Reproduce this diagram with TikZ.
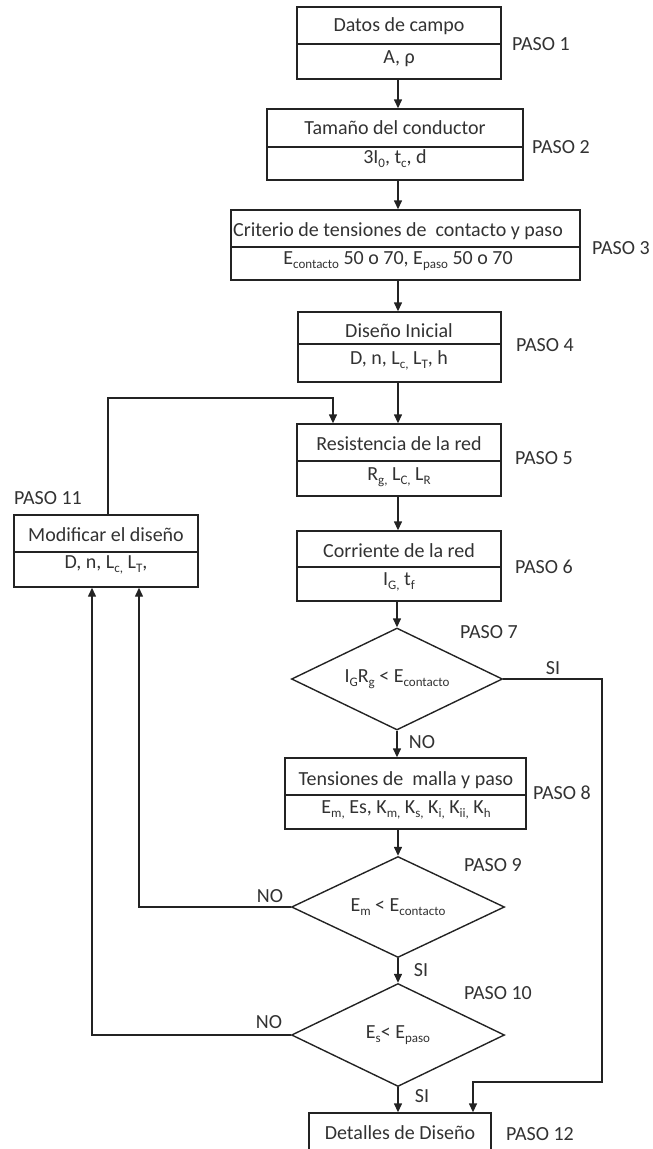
\documentclass[tikz,border=0pt]{standalone}
\usepackage{fontspec}
\setmainfont{Carlito}
\usetikzlibrary{arrows.meta,shapes.geometric}
\newcommand\sbs[1]{\raisebox{-0.22em}{\fontsize{13}{13}\selectfont #1}}
\definecolor{ink}{RGB}{35,35,35}
\definecolor{txt}{RGB}{50,50,50}
\begin{document}
\begin{tikzpicture}[x=1pt,y=-1pt,
  box/.style={draw=ink,line width=1.4pt,rectangle,inner sep=0pt},
  lbl/.style={text=txt,font=\fontsize{20}{24}\selectfont,inner sep=0pt,text height=13pt,text depth=0pt},
  paso/.style={lbl,anchor=west},
  dia/.style={draw=ink,line width=1.4pt,diamond,aspect=2,inner sep=0pt,text=txt,font=\fontsize{20}{24}\selectfont},
  arr/.style={draw=ink,line width=1.4pt,-{Triangle[length=9pt,width=8pt]}},
  ln/.style={draw=ink,line width=1.4pt}]
\useasboundingbox (0,0) rectangle (653,1149);
\clip (0,0) rectangle (653,1149);

% boxes
\node[box,minimum width=204pt,minimum height=72pt] (b1) at (399,43) {};
\draw[ln] (297,44) -- (501,44);
\node[lbl] (t1a) at (399,25) {Datos de campo};
\node[lbl] (t1b) at (399,57) {A, ρ};

\node[box,minimum width=256pt,minimum height=71pt] (b2) at (395,144.5) {};
\draw[ln] (267,147) -- (523,147);
\node[lbl] (t2a) at (395,128) {Tamaño del conductor};
\node[lbl] (t2b) at (395,157) {3I\sbs{0}, t\sbs{c}, d};

\node[box,minimum width=349pt,minimum height=70pt] (b3) at (405.5,245) {};
\draw[ln] (231,247) -- (580,247);
\node[lbl] (t3a) at (398,230) {Criterio de tensiones de\ \ contacto y paso};
\node[lbl] (t3b) at (398,258) {E\sbs{contacto} 50 o 70, E\sbs{paso} 50 o 70};

\node[box,minimum width=203pt,minimum height=70pt] (b4) at (399.5,347) {};
\draw[ln] (298,344) -- (501,344);
\node[lbl] (t4a) at (399,331) {Diseño Inicial};
\node[lbl] (t4b) at (399,358) {D, n, L\sbs{c,} L\sbs{T}, h};

\node[box,minimum width=204pt,minimum height=72pt] (b5) at (399,460) {};
\draw[ln] (297,461) -- (501,461);
\node[lbl] (t5a) at (399,444) {Resistencia de la red};
\node[lbl] (t5b) at (399,474) {R\sbs{g,} L\sbs{C,} L\sbs{R}};

\node[box,minimum width=204pt,minimum height=70pt] (b6) at (399,566) {};
\draw[ln] (297,567) -- (501,567);
\node[lbl] (t6a) at (399,551) {Corriente de la red};
\node[lbl] (t6b) at (399,579) {I\sbs{G,} t\sbs{f}};

\node[box,minimum width=184pt,minimum height=72pt] (b11) at (106,551) {};
\draw[ln] (14,552) -- (198,552);
\node[lbl] (t11a) at (106,535) {Modificar el diseño};
\node[lbl] (t11b) at (106,562) {D, n, L\sbs{c,} L\sbs{T},};

\node[box,minimum width=241pt,minimum height=71pt] (b8) at (405.5,793.5) {};
\draw[ln] (285,795) -- (526,795);
\node[lbl] (t8a) at (406,779) {Tensiones de\ \ malla y paso};
\node[lbl] (t8b) at (406,807) {E\sbs{m,} Es, K\sbs{m,} K\sbs{s,} K\sbs{i,} K\sbs{ii,} K\sbs{h}};

\node[box,minimum width=182pt,minimum height=70pt] (b12) at (400,1148) {};
\node[lbl] (t12) at (400,1133) {Detalles de Diseño};

% decisions
\node[dia,minimum width=211pt,minimum height=102pt] (d7) at (397,679) {I\sbs{G}R\sbs{g} < E\sbs{contacto}};
\node[dia,minimum width=213pt,minimum height=101pt] (d9) at (398,907) {E\sbs{m} < E\sbs{contacto}};
\node[dia,minimum width=213pt,minimum height=103pt] (d10) at (398,1035) {E\sbs{s}< E\sbs{paso}};

% main column arrows
\coordinate (col) at (398,0);
\draw[arr] (b1.south -| col) -- (b2.north -| col);
\draw[arr] (b2.south -| col) -- (b3.north -| col);
\draw[arr] (b3.south -| col) -- (b4.north -| col);
\draw[arr] (b4.south -| col) -- (b5.north -| col);
\draw[arr] (b5.south -| col) -- (b6.north -| col);
\draw[arr] (b6.south -| d7) -- (d7.north);
\draw[arr] (d7.south) -- (d7.south |- b8.north);
\draw[arr] (b8.south -| d9) -- (d9.north);
\draw[arr] (d9.south) -- (d10.north);
\draw[arr] (d10.south) -- (d10.south |- b12.north);

% feedback from step 11 to step 5
\coordinate (fbL) at (108,398);
\coordinate (fbR) at (333,398);
\draw[arr] (b11.north -| fbL) -- (fbL) -- (fbR) -- (b5.north -| fbR);

% SI from step 7 to step 12
\coordinate (siR) at (602,1082);
\coordinate (siB) at (473,1082);
\draw[arr] (d7.east) -| (siR) -- (siB) -- (b12.north -| siB);

% NO loops back to step 11
\coordinate (n9) at (139,0);
\coordinate (n10) at (92,0);
\draw[arr] (d9.west) -| (b11.south -| n9);
\draw[arr] (d10.west) -| (b11.south -| n10);

% branch labels
\node[lbl] (si7) at (553,668) {SI};
\node[lbl] (no7) at (422,742) {NO};
\node[lbl] (no9) at (270,896) {NO};
\node[lbl] (si9) at (421,970) {SI};
\node[lbl] (no10) at (269,1022) {NO};
\node[lbl] (si10) at (422,1096) {SI};

% step labels
\node[paso] (p1) at (512,44) {PASO 1};
\node[paso] (p2) at (532,147) {PASO 2};
\node[paso] (p3) at (592,248) {PASO 3};
\node[paso] (p4) at (516,345) {PASO 4};
\node[paso] (p5) at (515,458) {PASO 5};
\node[paso] (p6) at (515,567) {PASO 6};
\node[paso] (p7) at (460,632) {PASO 7};
\node[paso] (p8) at (533,793) {PASO 8};
\node[paso] (p9) at (464,865) {PASO 9};
\node[paso] (p10) at (464,993) {PASO 10};
\node[paso] (p11) at (14,498) {PASO 11};
\node[paso] (p12) at (506,1134) {PASO 12};
\end{tikzpicture}
\end{document}
